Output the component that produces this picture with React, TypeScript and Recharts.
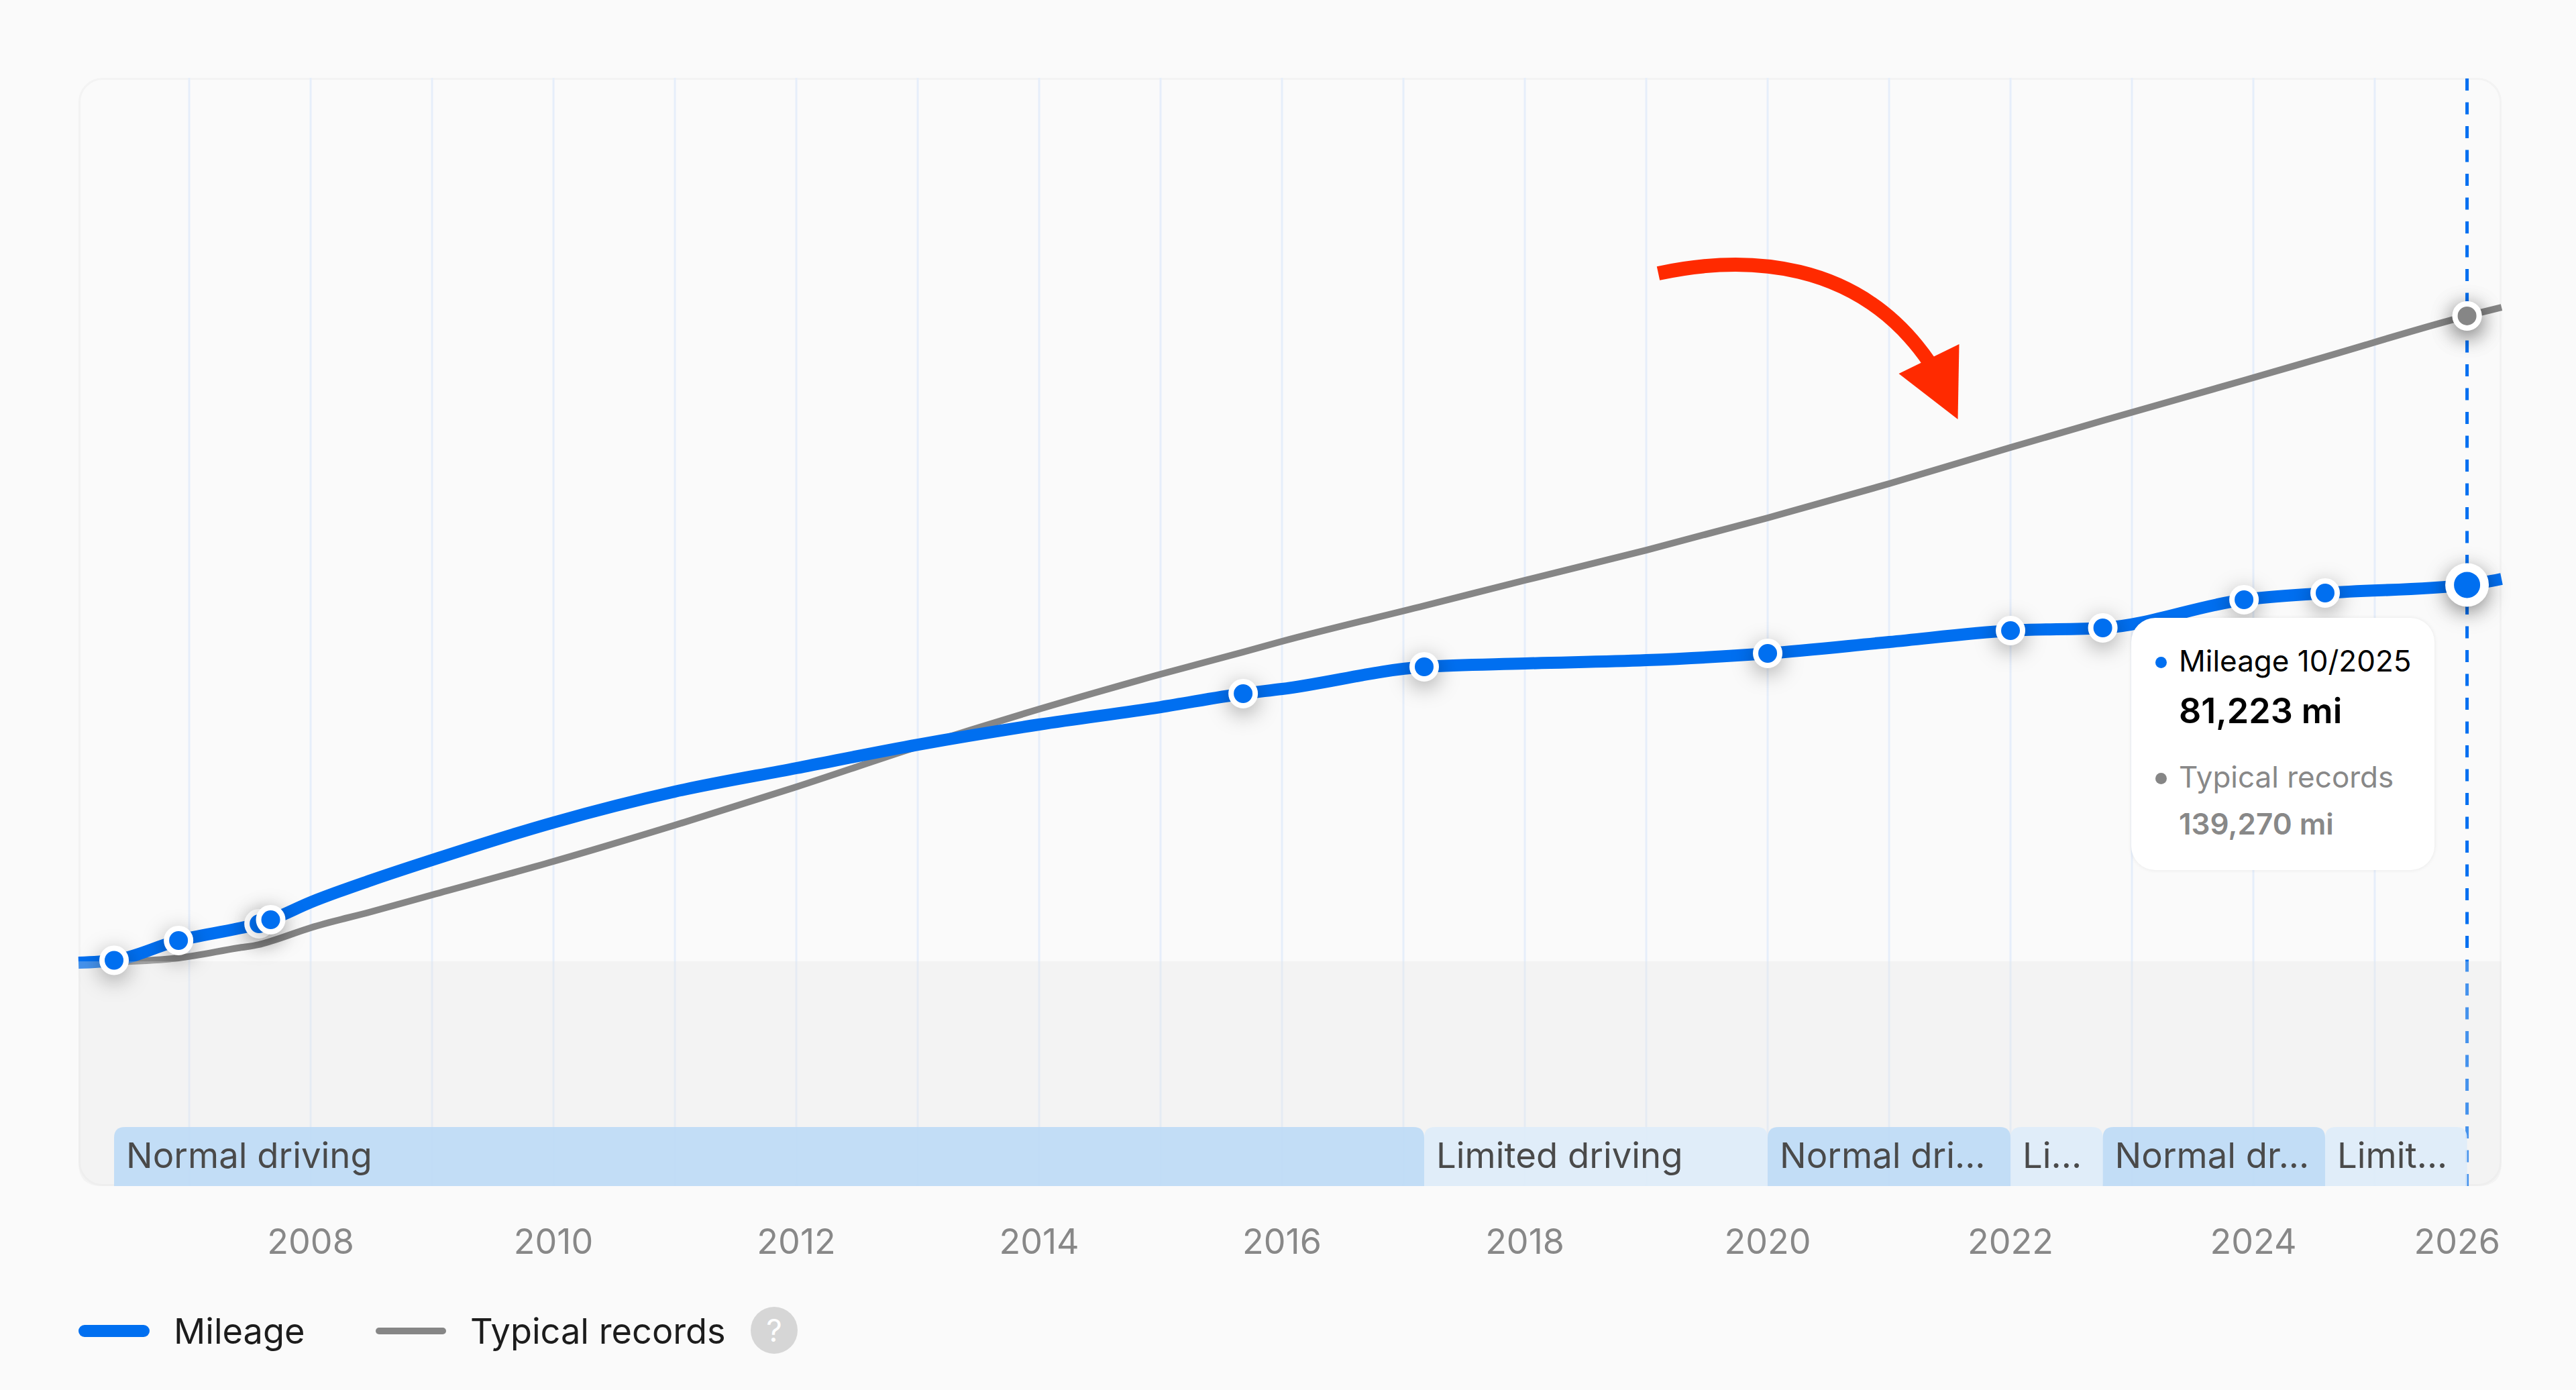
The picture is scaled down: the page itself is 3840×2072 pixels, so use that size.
import {
  CartesianGrid,
  Legend,
  Line,
  LineChart,
  ReferenceArea,
  ReferenceLine,
  Tooltip,
  XAxis,
  YAxis,
} from "recharts";

const FONT = "Inter, sans-serif";
const BLUE = "#006ff0";
const GRAY = "#868686";

const W = 3840;
const H = 2072;
const PLOT_LEFT = 117;
const PLOT_TOP = 116;
const PLOT_RIGHT = 3729;
const PLOT_BOTTOM = 1768;
const AXIS_HEIGHT = 80;

const X_DOMAIN = [2006.088, 2026.044];
const Y_DOMAIN = [-48490, 190640];

// readings, same row for both series
const years = [
  2006.088, 2006.381, 2006.912, 2007.403, 2007.575, 2007.671, 2008, 2008.5, 2009, 2010, 2011, 2012,
  2013, 2014, 2015, 2015.68, 2016, 2017.171, 2018, 2019, 2020, 2021, 2022, 2022.76, 2023.923,
  2024.591, 2025.76, 2026.044,
];
const mileage = [
  -290, 220, 4490, 7090, 8110, 8970, 12740, 17515, 21860, 29960, 36620, 41690, 46750, 51100, 54860,
  57760, 58770, 63550, 64270, 64990, 66440, 68900, 71360, 71940, 78020, 79470, 81223, 82510,
];
const typical = [
  null, -140, 720, 2900, 3620, 4340, 7240, 10710, 14330, 21570, 29380, 37635, 46320, 54425, 61950,
  66730, 69045, 76720, 82220, 88730, 95680, 103060, 110880, 116670, 125350, 130420, 139270, 141130,
];

// years that have an actual service record (white ringed dot)
const recordYears = [
  2006.381, 2006.912, 2007.575, 2007.671, 2015.68, 2017.171, 2020, 2022, 2022.76, 2023.923, 2024.591,
  2025.76,
];
const FOCUS_YEAR = 2025.76;

const tickYears = [2008, 2010, 2012, 2014, 2016, 2018, 2020, 2022, 2024, 2026];
const gridYears = [
  2007, 2008, 2009, 2010, 2011, 2012, 2013, 2014, 2015, 2016, 2017, 2018, 2019, 2020, 2021, 2022, 2023,
  2024, 2025,
];

const BAND_TOP_VALUE = -35750;
const bandStarts = [2006.381, 2017.171, 2020, 2022, 2022.76, 2024.591];
const bandEnds = [2017.171, 2020, 2022, 2022.76, 2024.591, 2025.76];
const bandLabels = ["Normal driving", "Limited driving", "Normal dri...", "Li...", "Normal dr...", "Limit..."];
const bandNormal = [true, false, true, false, true, false];

const rows = years.map((year, i) => ({ year, mileage: mileage[i], typical: typical[i] }));
const focusIndex = years.indexOf(FOCUS_YEAR);

const SHADOW = "drop-shadow(0 8px 16px rgba(0,0,0,0.34))";

function recordDot(color: string, showAll: boolean) {
  return (props: any) => {
    const { cx, cy, payload, key } = props;
    const show = showAll ? recordYears.includes(payload.year) : payload.year === FOCUS_YEAR;
    if (!show) return <g key={key ?? payload.year} />;
    return (
      <circle
        key={key ?? payload.year}
        cx={cx}
        cy={cy}
        r={18}
        fill={color}
        stroke="#fff"
        strokeWidth={8}
        style={{ filter: SHADOW }}
      />
    );
  };
}

function BigDot(props: any) {
  return (
    <circle
      cx={props.cx}
      cy={props.cy}
      r={26}
      fill={BLUE}
      stroke="#fff"
      strokeWidth={13}
      style={{ filter: SHADOW }}
    />
  );
}

function GrayActiveDot(props: any) {
  return (
    <circle
      cx={props.cx}
      cy={props.cy}
      r={18}
      fill={GRAY}
      stroke="#fff"
      strokeWidth={8}
      style={{ filter: SHADOW }}
    />
  );
}

function BelowZero(props: any) {
  const { x, y, width, height } = props;
  const r = 34;
  const d = `M${x} ${y}H${x + width}V${y + height - r}Q${x + width} ${y + height} ${x + width - r} ${y + height}H${x + r}Q${x} ${y + height} ${x} ${y + height - r}Z`;
  return <path d={d} fill="#e3e3e3" fillOpacity={0.3} />;
}

function bandShape(i: number) {
  return (props: any) => {
    const { x, y, width, height } = props;
    const r = 16;
    const d = `M${x} ${y + height}V${y + r}Q${x} ${y} ${x + r} ${y}H${x + width - r}Q${x + width} ${y} ${x + width} ${y + r}V${y + height}Z`;
    return (
      <g>
        <path d={d} fill={bandNormal[i] ? "#bcdaf6" : "#deecf9"} fillOpacity={0.9} />
        <text x={x + 18} y={y + 61} fontFamily={FONT} fontSize={52.7} fill="#4a4a4a">
          {bandLabels[i]}
        </text>
      </g>
    );
  };
}

function YearTick(props: any) {
  const { x, payload } = props;
  const last = payload.value === 2026;
  return (
    <text
      x={last ? PLOT_RIGHT - 2 : x}
      y={PLOT_BOTTOM + 101}
      textAnchor={last ? "end" : "middle"}
      fontFamily={FONT}
      fontSize={52}
      fill="#888"
    >
      {payload.value}
    </text>
  );
}

function fmt(v: number) {
  return `${v.toLocaleString("en-US")} mi`;
}

function TipCard() {
  const text: any = { position: "absolute", left: 71, whiteSpace: "nowrap", lineHeight: "60px" };
  const bullet: any = { position: "absolute", left: 36, width: 17, height: 17, borderRadius: "50%" };
  return (
    <div
      style={{
        position: "relative",
        width: 452,
        height: 376,
        background: "#fff",
        borderRadius: 36,
        boxShadow: "0 0 6px rgba(0,0,0,0.08)",
        fontFamily: FONT,
      }}
    >
      <span style={{ ...bullet, top: 58, background: BLUE }} />
      <span style={{ ...text, top: 34, fontSize: 44, color: "#000" }}>Mileage 10/2025</span>
      <span style={{ ...text, top: 109, fontSize: 52, fontWeight: 600, color: "#000" }}>
        {fmt(mileage[focusIndex])}
      </span>
      <span style={{ ...text, top: 207, fontSize: 44, color: "#888" }}>Typical records</span>
      <span style={{ ...bullet, top: 231, background: GRAY }} />
      <span style={{ ...text, top: 277, fontSize: 44, fontWeight: 600, color: "#888" }}>
        {fmt(typical[focusIndex] as number)}
      </span>
    </div>
  );
}

function LegendRow() {
  const label: any = {
    position: "absolute",
    top: 1952,
    fontFamily: FONT,
    fontSize: 52.3,
    lineHeight: "64px",
    color: "#1c1c1c",
    whiteSpace: "nowrap",
  };
  return (
    <div>
      <span style={{ position: "absolute", left: 117, top: 1975, width: 106, height: 18, borderRadius: 9, background: BLUE }} />
      <span style={{ ...label, left: 259 }}>Mileage</span>
      <span style={{ position: "absolute", left: 560, top: 1979, width: 105, height: 10, borderRadius: 5, background: GRAY }} />
      <span style={{ ...label, left: 701 }}>Typical records</span>
      <span
        style={{
          position: "absolute",
          left: 1119,
          top: 1948,
          width: 70,
          height: 70,
          borderRadius: "50%",
          background: "#d6d6d6",
          color: "#fff",
          fontFamily: FONT,
          fontSize: 46,
          lineHeight: "70px",
          textAlign: "center",
        }}
      >
        ?
      </span>
    </div>
  );
}

export default function App() {
  return (
    <div style={{ position: "absolute", left: 0, top: 0, width: W, height: H, background: "#fafafa", overflow: "hidden" }}>
      <div
        style={{
          position: "absolute",
          left: PLOT_LEFT,
          top: PLOT_TOP,
          width: PLOT_RIGHT - PLOT_LEFT,
          height: PLOT_BOTTOM - PLOT_TOP,
          boxSizing: "border-box",
          border: "3px solid #f3f3f3",
          borderRadius: 36,
        }}
      />
      <div style={{ position: "absolute", left: 0, top: 0 }}>
        <LineChart
          width={W}
          height={H}
          data={rows}
          margin={{ top: PLOT_TOP, left: PLOT_LEFT, right: W - PLOT_RIGHT, bottom: H - PLOT_BOTTOM - AXIS_HEIGHT }}
        >
          <CartesianGrid horizontal={false} verticalValues={gridYears} stroke="#e6eefa" strokeWidth={3} />
          <XAxis
            dataKey="year"
            type="number"
            domain={X_DOMAIN}
            ticks={tickYears}
            interval={0}
            height={AXIS_HEIGHT}
            axisLine={false}
            tickLine={false}
            tick={YearTick}
          />
          <YAxis hide type="number" domain={Y_DOMAIN} />
          <Legend
            content={LegendRow}
            height={100}
            wrapperStyle={{ position: "absolute", left: 0, top: 0, width: 0, height: 0 }}
          />
          <ReferenceLine
            x={FOCUS_YEAR}
            stroke={BLUE}
            strokeWidth={5}
            strokeDasharray="18 17.5"
            zIndex={150}
          />
          <Line
            dataKey="typical"
            type="monotone"
            stroke={GRAY}
            strokeWidth={10}
            dot={false}
            activeDot={false}
            legendType="none"
            isAnimationActive={false}
            zIndex={200}
          />
          <Line
            dataKey="mileage"
            type="monotone"
            stroke={BLUE}
            strokeWidth={18}
            dot={false}
            activeDot={false}
            legendType="none"
            isAnimationActive={false}
            zIndex={210}
          />
          <ReferenceArea y1={0} y2={Y_DOMAIN[0]} shape={BelowZero} zIndex={300} />
          {bandStarts.map((start, i) => (
            <ReferenceArea
              key={start}
              x1={start}
              x2={bandEnds[i]}
              y1={BAND_TOP_VALUE}
              y2={Y_DOMAIN[0]}
              shape={bandShape(i)}
              zIndex={310}
            />
          ))}
          <Line
            dataKey="typical"
            name="Typical records"
            type="monotone"
            stroke="none"
            dot={recordDot(GRAY, false)}
            activeDot={GrayActiveDot}
            isAnimationActive={false}
            zIndex={400}
          />
          <Line
            dataKey="mileage"
            name="Mileage"
            type="monotone"
            stroke="none"
            dot={recordDot(BLUE, true)}
            activeDot={BigDot}
            isAnimationActive={false}
            zIndex={410}
          />
          <Tooltip
            active
            defaultIndex={focusIndex}
            cursor={false}
            position={{ x: 3177, y: 921 }}
            content={TipCard}
            isAnimationActive={false}
            wrapperStyle={{ outline: "none" }}
          />
        </LineChart>
      </div>
      {/* hand drawn annotation arrow */}
      <svg width={W} height={H} style={{ position: "absolute", left: 0, top: 0, pointerEvents: "none" }}>
        <path d="M2472 407.5C2600 380 2770 385 2876 540" fill="none" stroke="#ff2a00" strokeWidth={21} />
        <polygon points="2920.5,513 2830.5,557 2918.5,625" fill="#ff2a00" />
      </svg>
    </div>
  );
}
